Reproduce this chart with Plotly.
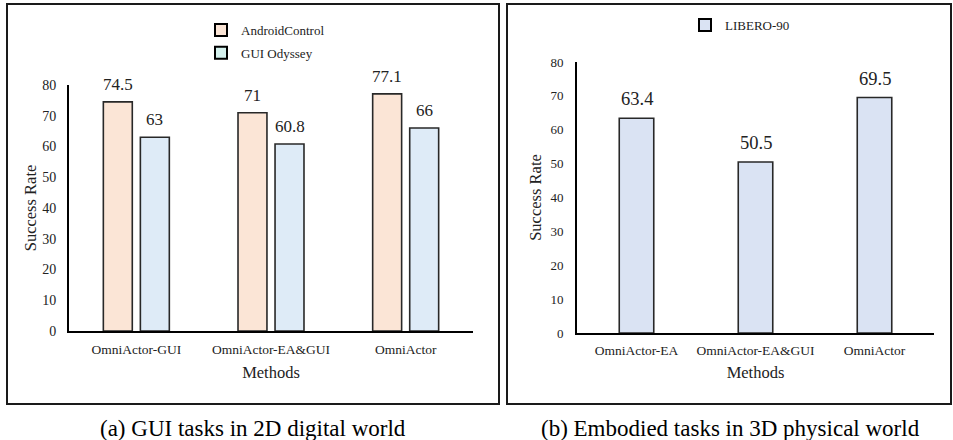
import plotly.graph_objects as go

# ---------------- data ----------------
gui_methods = ["OmniActor-GUI", "OmniActor-EA&GUI", "OmniActor"]
android_control = [74.5, 71, 77.1]
gui_odyssey = [63, 60.8, 66]

ea_methods = ["OmniActor-EA", "OmniActor-EA&GUI", "OmniActor"]
libero_90 = [63.4, 50.5, 69.5]

y_ticks = [0, 10, 20, 30, 40, 50, 60, 70, 80]

caption_a = "(a) GUI tasks in 2D digital world"
caption_b = "(b) Embodied tasks in 3D physical world"

# ---------------- style ----------------
FONT = "Liberation Serif"
W, H = 953, 440
C_AC = "#FBE5D6"
C_GO = "#DEEBF7"
C_GO_LEG = "#D5F2EE"
C_LIB = "#DAE3F3"
EDGE = "rgb(40,40,40)"


def px(x):
    return x / W


def py(y):
    return 1 - y / H


fig = go.Figure()

# left panel bars
w_l = 0.215
off_ac = -0.245
off_go = 0.03
fig.add_trace(go.Bar(x=gui_methods, y=android_control, width=w_l, offset=off_ac,
                     marker=dict(color=C_AC, line=dict(color=EDGE, width=1.6)),
                     showlegend=False, xaxis="x", yaxis="y"))
fig.add_trace(go.Bar(x=gui_methods, y=gui_odyssey, width=w_l, offset=off_go,
                     marker=dict(color=C_GO, line=dict(color=EDGE, width=1.6)),
                     showlegend=False, xaxis="x", yaxis="y"))

# right panel bars
w_r = 0.29
fig.add_trace(go.Bar(x=ea_methods, y=libero_90, width=w_r, offset=-w_r / 2,
                     marker=dict(color=C_LIB, line=dict(color=EDGE, width=1.6)),
                     showlegend=False, xaxis="x2", yaxis="y2"))

# legend entries
fig.add_trace(go.Bar(x=[None], y=[None], name="AndroidControl", legend="legend",
                     legendgroup="a", marker=dict(color=C_AC, line=dict(color="black", width=2)),
                     xaxis="x", yaxis="y"))
fig.add_trace(go.Bar(x=[None], y=[None], name="GUI Odyssey", legend="legend",
                     legendgroup="b", marker=dict(color=C_GO_LEG, line=dict(color="black", width=2)),
                     xaxis="x", yaxis="y"))
fig.add_trace(go.Bar(x=[None], y=[None], name="LIBERO-90", legend="legend2",
                     legendgroup="c", marker=dict(color=C_LIB, line=dict(color="black", width=2)),
                     xaxis="x2", yaxis="y2"))

# value labels
ann = []
for i, v in enumerate(android_control):
    ann.append(dict(x=i + off_ac + w_l / 2, y=v, xref="x", yref="y", text=str(v),
                    showarrow=False, yanchor="bottom", yshift=6,
                    font=dict(family=FONT, size=17, color="#222")))
for i, v in enumerate(gui_odyssey):
    ann.append(dict(x=i + off_go + w_l / 2, y=v, xref="x", yref="y", text=str(v),
                    showarrow=False, yanchor="bottom", yshift=6,
                    font=dict(family=FONT, size=17, color="#222")))
for i, v in enumerate(libero_90):
    ann.append(dict(x=i, y=v, xref="x2", yref="y2", text=str(v),
                    showarrow=False, yanchor="bottom", yshift=7,
                    font=dict(family=FONT, size=18.5, color="#222")))

# captions
ann.append(dict(x=px(253), y=py(428), xref="paper", yref="paper", text=caption_a,
                showarrow=False, xanchor="center", yanchor="middle",
                font=dict(family=FONT, size=23, color="black")))
ann.append(dict(x=px(730), y=py(428), xref="paper", yref="paper", text=caption_b,
                showarrow=False, xanchor="center", yanchor="middle",
                font=dict(family=FONT, size=23, color="black")))

# panel frames
shapes = [
    dict(type="rect", xref="paper", yref="paper", x0=px(7), x1=px(499), y0=py(404), y1=py(4),
         line=dict(color="#1a1a1a", width=2), fillcolor="rgba(0,0,0,0)", layer="below"),
    dict(type="rect", xref="paper", yref="paper", x0=px(507), x1=px(951), y0=py(404), y1=py(4),
         line=dict(color="#1a1a1a", width=2), fillcolor="rgba(0,0,0,0)", layer="below"),
]

axis_common = dict(showgrid=False, zeroline=False, showline=True, linecolor="black",
                   linewidth=2, ticks="", automargin=False)

fig.update_layout(
    width=W, height=H,
    autosize=False,
    margin=dict(l=0, r=0, t=0, b=0, pad=0, autoexpand=False),
    paper_bgcolor="white", plot_bgcolor="white",
    barmode="overlay",
    font=dict(family=FONT, color="black"),
    xaxis=dict(domain=[px(69), px(473)], anchor="y", type="category",
               tickfont=dict(size=13.5, family=FONT, color="#222"), ticklabelstandoff=5,
               title=dict(text="Methods", font=dict(size=16.5, family=FONT, color="#222"), standoff=10),
               **axis_common),
    yaxis=dict(domain=[py(331), py(85)], anchor="x", range=[0, 80], tickvals=y_ticks,
               tickfont=dict(size=14, family=FONT, color="#222"), ticklabelstandoff=8,
               title=dict(text="Success Rate", font=dict(size=16.5, family=FONT, color="#222"), standoff=1),
               **axis_common),
    xaxis2=dict(domain=[px(577), px(934)], anchor="y2", type="category",
                tickfont=dict(size=13.5, family=FONT, color="#222"), ticklabelstandoff=4,
                title=dict(text="Methods", font=dict(size=16.5, family=FONT, color="#222"), standoff=9),
                **axis_common),
    yaxis2=dict(domain=[py(333), py(62)], anchor="x2", range=[0, 80], tickvals=y_ticks,
                tickfont=dict(size=13, family=FONT, color="#222"), ticklabelstandoff=9,
                title=dict(text="Success Rate", font=dict(size=16.5, family=FONT, color="#222"), standoff=5),
                **axis_common),
    legend=dict(x=px(201), y=py(15), xanchor="left", yanchor="top", bgcolor="rgba(0,0,0,0)",
                font=dict(size=13, family=FONT, color="#222"), tracegroupgap=3,
                traceorder="grouped"),
    legend2=dict(x=px(685), y=py(10), xanchor="left", yanchor="top", bgcolor="rgba(0,0,0,0)",
                 font=dict(size=13, family=FONT, color="#222")),
    annotations=ann,
    shapes=shapes,
)

fig.write_html("out.html", config={"displayModeBar": False},
               post_script="document.body.style.margin='0';document.body.style.overflow='hidden';")
